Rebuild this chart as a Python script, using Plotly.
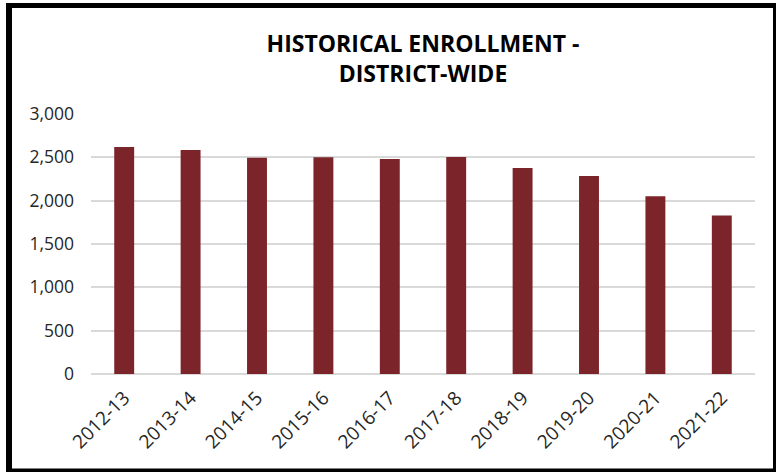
import plotly.graph_objects as go

years = ["2012-13", "2013-14", "2014-15", "2015-16", "2016-17",
         "2017-18", "2018-19", "2019-20", "2020-21", "2021-22"]
enrollment = [2620, 2585, 2495, 2500, 2480, 2503, 2378, 2285, 2050, 1830]
y_ticks = [0, 500, 1000, 1500, 2000, 2500, 3000]
y_tick_text = ["0", "500", "1,000", "1,500", "2,000", "2,500", "3,000"]

W, H = 776, 472
ML, MR, MT, MB = 91, 21, 114, 98
PW, PH = W - ML - MR, H - MT - MB

def px(x):
    return (x - ML) / PW

def py(y):
    return (H - MB - y) / PH

fig = go.Figure(go.Bar(
    x=years, y=enrollment,
    marker=dict(color="#7B2429", line=dict(width=0)),
    width=0.3,
))

border = "#000000"
shapes = [
    dict(type="line", xref="paper", yref="paper", x0=px(6), x1=px(776), y0=py(5.5), y1=py(5.5), line=dict(color=border, width=5)),
    dict(type="line", xref="paper", yref="paper", x0=px(9), x1=px(9), y0=py(3), y1=py(472), line=dict(color=border, width=6)),
    dict(type="line", xref="paper", yref="paper", x0=px(6), x1=px(776), y0=py(470.5), y1=py(470.5), line=dict(color=border, width=4)),
    dict(type="line", xref="paper", yref="paper", x0=px(774.5), x1=px(774.5), y0=py(3), y1=py(472), line=dict(color=border, width=3)),
]

fig.update_layout(
    width=W, height=H,
    margin=dict(l=ML, r=MR, t=MT, b=MB, pad=0),
    paper_bgcolor="white", plot_bgcolor="white",
    font=dict(family="Open Sans, DejaVu Sans, sans-serif", color="#262626", size=17),
    title=dict(
        text="<b>HISTORICAL ENROLLMENT -<br>DISTRICT-WIDE</b>",
        x=0.5, xref="paper", xanchor="center",
        y=1 - 52 / H, yanchor="middle",
        font=dict(family="Open Sans, sans-serif", size=23, color="#000000"),
    ),
    showlegend=False,
    bargap=0.7,
    shapes=shapes,
    xaxis=dict(
        tickangle=-45, showgrid=False, showline=False, ticks="",
        tickfont=dict(size=19, color="#262626"), ticklabelstandoff=8,
    ),
    yaxis=dict(
        range=[0, 3000], tickvals=y_ticks, ticktext=y_tick_text,
        showgrid=True, gridcolor="#D9D9D9", gridwidth=1.5,
        zeroline=True, zerolinecolor="#D9D9D9", zerolinewidth=1.5,
        showline=False, ticks="", ticklabelstandoff=16,
        tickfont=dict(size=17.5, color="#262626"),
    ),
)

fig.write_html(
    "out.html",
    config={"displayModeBar": False},
    post_script="document.body.style.margin='0';document.body.style.overflow='hidden';",
)
